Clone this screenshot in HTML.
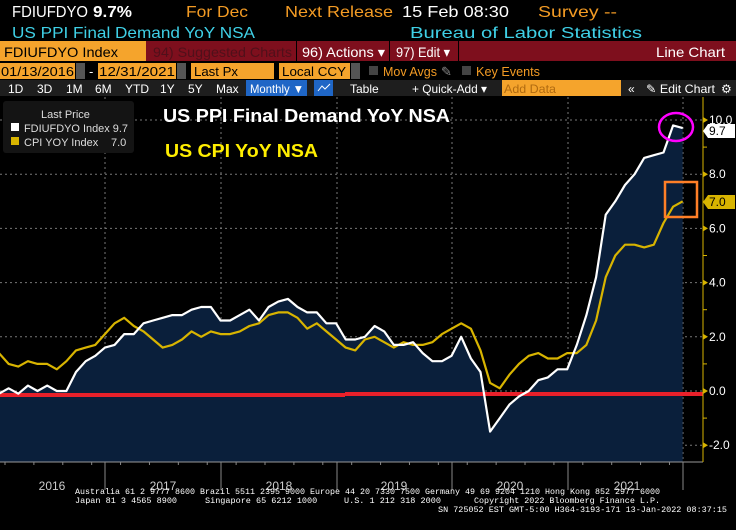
<!DOCTYPE html>
<html><head><meta charset="utf-8"><style>
html,body{margin:0;padding:0;background:#000;width:736px;height:530px;overflow:hidden}
svg{display:block}
text{font-family:"Liberation Sans",sans-serif}
.m{font-family:"Liberation Mono",monospace}
</style></head><body>
<svg id="s" width="736" height="530" viewBox="0 0 736 530" xmlns="http://www.w3.org/2000/svg">
<rect width="736" height="530" fill="#000"/>
<!-- header rows -->
<g font-size="16">
<text x="12" y="17" fill="#fff" textLength="76" lengthAdjust="spacingAndGlyphs">FDIUFDYO</text>
<text x="93" y="17" fill="#fff" font-weight="bold" textLength="39" lengthAdjust="spacingAndGlyphs">9.7%</text>
<text x="186" y="17" fill="#f39b24" textLength="62" lengthAdjust="spacingAndGlyphs">For Dec</text>
<text x="285" y="17" fill="#f39b24" textLength="108" lengthAdjust="spacingAndGlyphs">Next Release</text>
<text x="402" y="17" fill="#fff" textLength="107" lengthAdjust="spacingAndGlyphs">15 Feb 08:30</text>
<text x="538" y="17" fill="#f39b24" textLength="79" lengthAdjust="spacingAndGlyphs">Survey --</text>
<text x="12" y="38" fill="#3fd0e6" textLength="243" lengthAdjust="spacingAndGlyphs">US PPI Final Demand YoY NSA</text>
<text x="410" y="38" fill="#3fd0e6" textLength="232" lengthAdjust="spacingAndGlyphs">Bureau of Labor Statistics</text>
</g>
<rect x="0" y="41" width="736" height="20" fill="#7e0f1d"/>
<rect x="0" y="41" width="146" height="20" fill="#f5a42c"/>
<rect x="296" y="41" width="1" height="20" fill="#000"/>
<rect x="389" y="41" width="1" height="20" fill="#000"/>
<rect x="458" y="41" width="1" height="20" fill="#000"/>
<g font-size="14">
<text x="4" y="57" fill="#000" textLength="114" lengthAdjust="spacingAndGlyphs">FDIUFDYO Index</text>
<text x="153" y="57" fill="#50101a" textLength="139" lengthAdjust="spacingAndGlyphs">94) Suggested Charts</text>
<text x="302" y="57" fill="#fff" textLength="83" lengthAdjust="spacingAndGlyphs">96) Actions ▾</text>
<text x="396" y="57" fill="#fff" textLength="54" lengthAdjust="spacingAndGlyphs">97) Edit ▾</text>
<text x="656" y="57" fill="#fff" textLength="69" lengthAdjust="spacingAndGlyphs">Line Chart</text>
</g>
<!-- row 4 -->
<g font-size="13">
<rect x="0" y="63" width="75" height="16" fill="#f5a42c"/><rect x="76" y="63" width="9" height="16" fill="#555"/>
<text x="89" y="76" fill="#fff">-</text>
<rect x="98" y="63" width="78" height="16" fill="#f5a42c"/><rect x="177" y="63" width="9" height="16" fill="#555"/>
<rect x="191" y="63" width="83" height="16" fill="#f5a42c"/>
<rect x="279" y="63" width="71" height="16" fill="#f5a42c"/><rect x="351" y="63" width="9" height="16" fill="#555"/>
<text x="1" y="76" fill="#000" textLength="73" lengthAdjust="spacingAndGlyphs">01/13/2016</text>
<text x="99" y="76" fill="#000" textLength="76" lengthAdjust="spacingAndGlyphs">12/31/2021</text>
<text x="194" y="76" fill="#000" textLength="44" lengthAdjust="spacingAndGlyphs">Last Px</text>
<text x="282" y="76" fill="#000" textLength="64" lengthAdjust="spacingAndGlyphs">Local CCY</text>
<rect x="369" y="66" width="9" height="9" fill="#444"/>
<text x="383" y="76" fill="#f39b24" textLength="54" lengthAdjust="spacingAndGlyphs">Mov Avgs</text>
<text x="441" y="76" fill="#888">✎</text>
<rect x="462" y="66" width="9" height="9" fill="#444"/>
<text x="476" y="76" fill="#f39b24" textLength="64" lengthAdjust="spacingAndGlyphs">Key Events</text>
</g>
<!-- row 5 -->
<rect x="0" y="80" width="736" height="16" fill="#1e1e1e"/>
<rect x="246" y="80" width="61" height="16" fill="#1f66c6"/>
<rect x="314" y="80" width="19" height="16" fill="#1f66c6"/>
<polyline points="318,91 322,86 325,89 330,84" fill="none" stroke="#fff" stroke-width="1"/>
<rect x="502" y="80" width="119" height="16" fill="#f5a42c"/>
<g font-size="12" fill="#fff">
<text x="8" y="93">1D</text><text x="37" y="93">3D</text><text x="66" y="93">1M</text><text x="95" y="93">6M</text>
<text x="125" y="93">YTD</text><text x="160" y="93">1Y</text><text x="188" y="93">5Y</text><text x="216" y="93">Max</text>
<text x="250" y="93" textLength="54" lengthAdjust="spacingAndGlyphs">Monthly ▼</text>
<text x="350" y="93">Table</text>
<text x="412" y="93" textLength="75" lengthAdjust="spacingAndGlyphs">+ Quick-Add ▾</text>
<text x="504" y="93" fill="#b06a10" textLength="52" lengthAdjust="spacingAndGlyphs">Add Data</text>
<text x="628" y="93">«</text>
<text x="646" y="93" textLength="69" lengthAdjust="spacingAndGlyphs">✎ Edit Chart</text>
<text x="721" y="93">⚙</text>
</g>
<!-- plot -->
<g id="grid" stroke="#777" stroke-width="1" stroke-dasharray="2,3"></g>
<path id="fill" fill="#0a1f3b"/>
<g id="grid2" stroke="#556" stroke-width="1" stroke-dasharray="2,3"></g>
<rect x="0" y="393" width="345" height="4" fill="#e8202a"/>
<rect x="345" y="392" width="358" height="4" fill="#e8202a"/>
<polyline id="cpi" fill="none" stroke="#d8b400" stroke-width="2.2" stroke-linejoin="round"/>
<polyline id="ppi" fill="none" stroke="#fff" stroke-width="2.2" stroke-linejoin="round"/>
<line x1="0" y1="462" x2="703" y2="462" stroke="#999"/>
<line x1="703" y1="97" x2="703" y2="462" stroke="#d8b400"/>
<g id="axis" font-size="12" fill="#fff"></g>
<g id="xa" stroke="#888"></g>
<!-- callouts -->
<path d="M703,131 l5,-7 h27 v14 h-27 z" fill="#fff"/>
<text x="709" y="135" font-size="12" fill="#000">9.7</text>
<path d="M703,202 l5,-7 h27 v14 h-27 z" fill="#d8b400"/>
<text x="709" y="206" font-size="12" fill="#000">7.0</text>
<ellipse cx="676" cy="127" rx="17" ry="14" fill="none" stroke="#ff00ff" stroke-width="2.5"/>
<rect x="665" y="182" width="32" height="35" fill="none" stroke="#ff7f27" stroke-width="2.5"/>
<!-- legend -->
<rect x="3" y="101" width="131" height="52" rx="3" fill="#141414"/>
<text x="41" y="118" font-size="11" fill="#ddd">Last Price</text>
<rect x="11" y="123" width="8" height="8" fill="#fff"/>
<text x="24" y="132" font-size="11" fill="#ddd" textLength="104" lengthAdjust="spacingAndGlyphs">FDIUFDYO Index 9.7</text>
<rect x="11" y="137" width="8" height="8" fill="#d8b400"/>
<text x="24" y="146" font-size="11" fill="#ddd">CPI YOY Index</text>
<text x="111" y="146" font-size="11" fill="#ddd">7.0</text>
<text x="163" y="122" font-size="18" font-weight="bold" fill="#fff" textLength="287" lengthAdjust="spacingAndGlyphs">US PPI Final Demand YoY NSA</text>
<text x="165" y="157" font-size="18" font-weight="bold" fill="#ffee00" textLength="153" lengthAdjust="spacingAndGlyphs">US CPI YoY NSA</text>
<!-- years -->
<g font-size="12" fill="#ccc" text-anchor="middle">
<text x="52" y="490">2016</text><text x="163" y="490">2017</text><text x="279" y="490">2018</text>
<text x="394" y="490">2019</text><text x="510" y="490">2020</text><text x="627" y="490">2021</text>
</g>
<g class="m" font-size="8.5" fill="#fff">
<text x="75" y="494" class="m" textLength="585" lengthAdjust="spacingAndGlyphs">Australia 61 2 9777 8600 Brazil 5511 2395 9000 Europe 44 20 7330 7500 Germany 49 69 9204 1210 Hong Kong 852 2977 6000</text>
<text x="75" y="503" class="m">Japan 81 3 4565 8900</text>
<text x="205" y="503" class="m">Singapore 65 6212 1000</text>
<text x="344" y="503" class="m">U.S. 1 212 318 2000</text>
<text x="474" y="503" class="m" textLength="186" lengthAdjust="spacingAndGlyphs">Copyright 2022 Bloomberg Finance L.P.</text>
<text x="438" y="512" class="m" textLength="289" lengthAdjust="spacingAndGlyphs">SN 725052 EST  GMT-5:00 H364-3193-171 13-Jan-2022 08:37:15</text>
</g>
</svg>
<script>
var ppi=[-0.1,0.1,-0.1,0.2,0.0,0.2,0.0,0.0,0.7,1.1,1.3,1.6,1.7,2.1,2.1,2.5,2.6,2.7,2.8,2.8,3.0,3.1,3.1,2.6,2.6,2.8,3.0,2.6,3.1,3.3,3.4,3.1,2.9,2.9,2.5,2.5,1.9,1.9,2.0,2.4,2.2,1.7,1.7,1.8,1.4,1.1,1.1,1.3,2.0,1.2,0.7,-1.5,-1.0,-0.5,-0.2,0.0,0.4,0.5,0.8,0.8,1.7,2.8,4.2,6.5,7.0,7.6,8.0,8.6,8.7,8.8,9.8,9.7];
var cpi=[1.4,1.0,0.9,1.1,1.0,1.0,0.8,1.1,1.5,1.6,1.7,2.1,2.5,2.7,2.4,2.2,1.9,1.6,1.7,1.9,2.2,2.0,2.2,2.1,2.1,2.2,2.4,2.5,2.8,2.9,2.9,2.7,2.3,2.5,2.2,1.9,1.6,1.5,1.9,2.0,1.8,1.6,1.8,1.7,1.7,1.8,2.1,2.3,2.5,2.3,1.5,0.3,0.1,0.6,1.0,1.3,1.4,1.2,1.2,1.4,1.4,1.7,2.6,4.2,5.0,5.4,5.4,5.3,5.4,6.2,6.8,7.0];
function X(i){return -1+i*9.63;}function Y(v){return 391-v*27.1;}
var NS="http://www.w3.org/2000/svg";
function pts(a){return a.map(function(v,i){return X(i).toFixed(1)+","+Y(v).toFixed(1);}).join(" ");}
document.getElementById("ppi").setAttribute("points",pts(ppi));
document.getElementById("cpi").setAttribute("points",pts(cpi));
var d="M0,462 L"+pts(ppi).split(" ").join(" L")+" L"+X(71).toFixed(1)+",462 Z";
document.getElementById("fill").setAttribute("d",d);
function el(p,t,a){var e=document.createElementNS(NS,t);for(var k in a)e.setAttribute(k,a[k]);p.appendChild(e);return e;}
var g=document.getElementById("grid"),g2=document.getElementById("grid2"),ax=document.getElementById("axis"),xa=document.getElementById("xa");
var vx=[105,221,337,452,568,683];
for(var v=-2;v<=10;v+=2){var y=Y(v);el(g,"line",{x1:0,x2:703,y1:y,y2:y});
 el(ax,"path",{d:"M703,"+(y-3)+" l5,3 l-5,3 z",fill:"#d8b400"});
 var t=el(ax,"text",{x:709,y:y+4});t.textContent=v.toFixed(1);}
for(var v=-1;v<=9;v+=2){el(ax,"line",{x1:703,x2:707,y1:Y(v),y2:Y(v),stroke:"#d8b400"});}
vx.forEach(function(x){el(g,"line",{x1:x,x2:x,y1:97,y2:462});el(xa,"line",{x1:x,x2:x,y1:462,y2:490});});
for(var i=0;i<72;i+=3){var x=X(i)+6;if(x>0&&x<703)el(xa,"line",{x1:x,x2:x,y1:462,y2:465});}
</script>
</body></html>
